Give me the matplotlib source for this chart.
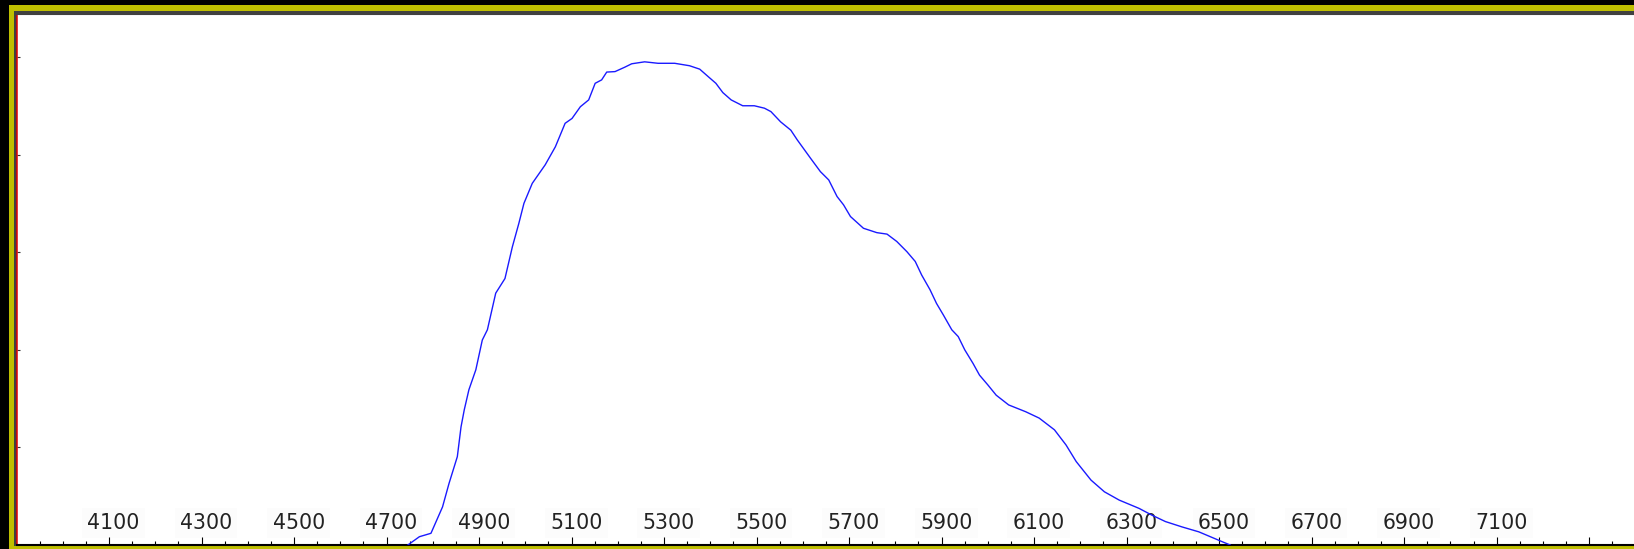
import matplotlib.pyplot as plt
from matplotlib.patches import Rectangle
import numpy as np

# spectral response curve
wavelength = [4746, 4771, 4796, 4821, 4835, 4853, 4861, 4868, 4878, 4893,
              4907, 4918, 4936, 4956, 4972, 4986, 4997, 5015, 5043, 5065,
              5086, 5101, 5119, 5137, 5151, 5165, 5176, 5194, 5215, 5230,
              5258, 5287, 5323, 5355, 5377, 5395, 5412, 5427, 5445, 5470,
              5495, 5517, 5531, 5552, 5574, 5588, 5617, 5638, 5656, 5674,
              5688, 5703, 5731, 5760, 5782, 5803, 5825, 5843, 5857, 5875,
              5889, 5904, 5922, 5936, 5950, 5968, 5982, 6000, 6018, 6045,
              6082, 6111, 6144, 6169, 6191, 6223, 6252, 6284, 6327, 6355,
              6384, 6420, 6456, 6481, 6506, 6524]
response = [0, 1.7, 2.4, 7.8, 12.6, 18.1, 24.2, 27.7, 31.8, 35.9,
            42.0, 44.1, 51.6, 54.6, 61.1, 65.9, 70.0, 74.1, 77.9, 81.6,
            86.4, 87.4, 89.8, 91.2, 94.6, 95.3, 96.9, 97.0, 97.9, 98.6,
            99.0, 98.7, 98.7, 98.2, 97.5, 96.0, 94.6, 92.7, 91.2, 90.0,
            90.0, 89.5, 88.8, 86.7, 85.0, 83.0, 79.2, 76.5, 74.8, 71.4,
            69.7, 67.3, 64.9, 64.0, 63.7, 62.2, 60.1, 58.1, 55.3, 52.3,
            49.5, 47.1, 44.1, 42.7, 40.0, 37.2, 34.8, 32.8, 30.7, 28.7,
            27.3, 26.0, 23.6, 20.5, 17.1, 13.3, 10.9, 9.2, 7.5, 6.1,
            4.8, 3.7, 2.7, 1.7, 0.7, 0]

label_ticks = [4100, 4300, 4500, 4700, 4900, 5100, 5300, 5500, 5700,
               5900, 6100, 6300, 6500, 6700, 6900, 7100]
major_ticks = label_ticks + [7300]
y_ticks = [20, 40, 60, 80, 100]

W, H = 1634, 549
fig = plt.figure(figsize=(W / 100, H / 100), dpi=100, facecolor='black')

# window frame: yellow band, then dark inner line
fig.patches.append(Rectangle((9 / W, 0), 1, (H - 5) / H, transform=fig.transFigure,
                             facecolor='#bfbf00', edgecolor='none', zorder=-2))
fig.patches.append(Rectangle((14 / W, 3 / H), 1, (H - 11 - 3) / H, transform=fig.transFigure,
                             facecolor='#404040', edgecolor='none', zorder=-1))

ax = fig.add_axes([17 / W, 4 / H, (W - 17) / W, (545 - 14) / H])
ax.set_zorder(5)
ax.set_facecolor('white')

ax.plot(wavelength, response, color='#1a1aff', lw=1.0, zorder=3)

ax.set_xlim(3901, 7397)
ax.set_ylim(0, 108.8)

ax.set_xticks(major_ticks)
ax.set_xticks(np.arange(3950, 7400, 50), minor=True)
ax.set_yticks(y_ticks)
ax.tick_params(axis='x', which='major', direction='in', length=5.8, width=0.8,
               color='black', labelbottom=False)
ax.tick_params(axis='x', which='minor', direction='in', length=2.9, width=0.8,
               color='black')
ax.tick_params(axis='y', direction='in', length=2.2, width=0.8, color='#333333',
               labelleft=False)

for t in label_ticks:
    ax.text(t + 10, 4.5, str(t), ha='center', va='center', fontsize=14.8,
            color='#222222', zorder=1,
            bbox=dict(boxstyle='square,pad=0.25', facecolor='#fcfcfc', edgecolor='none'))

ax.spines['right'].set_visible(False)
ax.spines['top'].set_color('#404040')
ax.spines['top'].set_linewidth(1.5)
ax.spines['left'].set_color('#e00000')
ax.spines['left'].set_linewidth(1.1)
ax.spines['bottom'].set_color('black')
ax.spines['bottom'].set_linewidth(1.5)

fig.savefig('out.png', dpi=100, facecolor=fig.get_facecolor())
